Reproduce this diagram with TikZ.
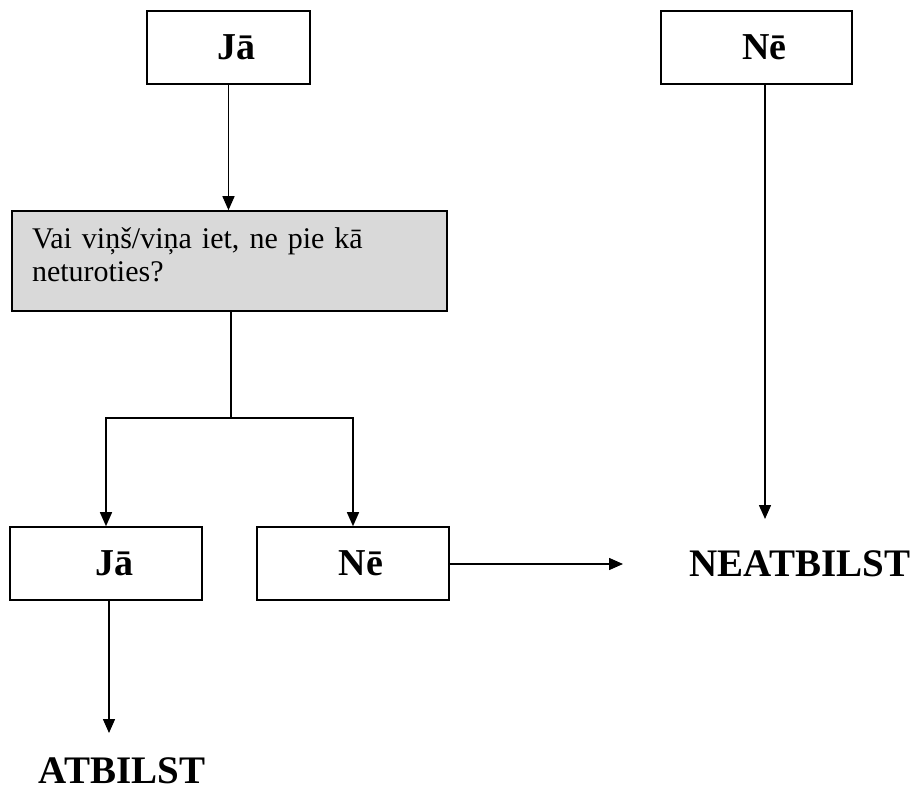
\documentclass[tikz,border=0pt]{standalone}
\usepackage{fontspec}
\setmainfont{Liberation Serif}
\usetikzlibrary{arrows.meta}
\tikzset{
  answer/.style={draw, line width=1.6pt, minimum height=73pt, inner sep=0pt,
    font=\bfseries\fontsize{38}{40}\selectfont, execute at begin node=\hspace{16pt}},
  result/.style={inner sep=0pt, font=\bfseries\fontsize{39}{41}\selectfont},
  arr/.style={line width=1.5pt, -{Triangle[length=14pt,width=12pt]}}
}
\begin{document}
\begin{tikzpicture}[x=1pt,y=-1pt]
\useasboundingbox (0,0) rectangle (913,789);
% top answers
\node [answer, minimum width=163pt] (topja) at (228.5,47.5) {J\={a}};
\node [answer, minimum width=191pt] (topne) at (756.5,47.5) {N\={e}};
% question
\node [draw, line width=1.6pt, fill=black!15, minimum width=435pt, minimum height=100pt,
  inner sep=0pt, text width=395pt, align=left, font=\fontsize{30}{33}\selectfont]
  (q) at (229.5,261) {Vai viņš/viņa iet, ne pie kā\\neturoties?\rule[-12pt]{0pt}{0pt}};
% lower answers
\node [answer, minimum width=192pt] (bja) at (106,563.5) {J\={a}};
\node [answer, minimum width=192pt] (bne) at (353,563.5) {N\={e}};
% results
\node [result] (neat) at (800,563.5) {NEATBILST};
\node [result] (atb) at (122,771) {ATBILST};
\coordinate (j) at (231,418);
\coordinate (neend) at (623,564);
\coordinate (neattop) at (765,519);
\coordinate (atbtop) at (109,733);
% connectors
\draw [arr] (topja.south) -- (topja.south |- q.north);
\draw [line width=1.5pt] (q.south -| j) -- (j);
\draw [arr] (j) -| (bja.north);
\draw [arr] (j) -| (bne.north);
\draw [arr] (bne.east |- neend) -- (neend);
\draw [arr] (topne.south -| neattop) -- (neattop);
\draw [arr] (bja.south -| atbtop) -- (atbtop);
\end{tikzpicture}
\end{document}
